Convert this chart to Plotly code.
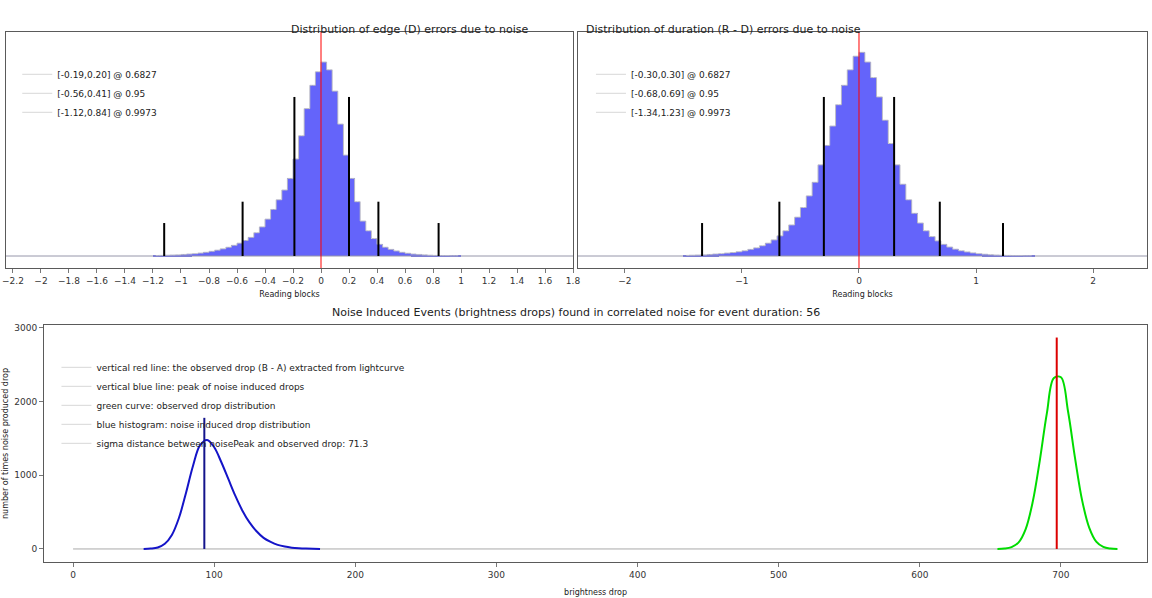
import numpy as np
import plotly.graph_objects as go

# ---- data ----
edge_start, edge_width = -1.18, 0.04
edge_counts = [0.002, 0.003, 0.004, 0.005, 0.006, 0.008, 0.010, 0.012, 0.015, 0.019,
               0.024, 0.030, 0.037, 0.045, 0.055, 0.066, 0.080, 0.096, 0.12, 0.15,
               0.19, 0.24, 0.29, 0.34, 0.40, 0.50, 0.62, 0.76, 0.88, 0.95,
               1.0, 0.96, 0.85, 0.68, 0.52, 0.40, 0.28, 0.18, 0.13, 0.09,
               0.06, 0.045, 0.034, 0.026, 0.019, 0.014, 0.010, 0.008, 0.006, 0.004,
               0.003, 0.002, 0.002, 0.001, 0.001]
edge_bounds = [-0.19, 0.20, -0.56, 0.41, -1.12, 0.84]
edge_labels = ["[-0.19,0.20] @ 0.6827", "[-0.56,0.41] @ 0.95", "[-1.12,0.84] @ 0.9973"]

dur_start, dur_width = -1.475, 0.05
dur_counts = [0.003, 0.004, 0.005, 0.006, 0.008, 0.010, 0.012, 0.015, 0.018, 0.022,
              0.027, 0.034, 0.042, 0.053, 0.066, 0.083, 0.104, 0.13, 0.16, 0.20,
              0.25, 0.31, 0.38, 0.47, 0.57, 0.67, 0.78, 0.88, 0.96, 1.03,
              1.05, 1.0, 0.92, 0.82, 0.70, 0.58, 0.47, 0.37, 0.29, 0.22,
              0.17, 0.13, 0.10, 0.078, 0.060, 0.046, 0.035, 0.027, 0.021, 0.016,
              0.012, 0.009, 0.007, 0.005, 0.004, 0.003, 0.002, 0.002, 0.001, 0.001]
dur_bounds = [-0.30, 0.30, -0.68, 0.69, -1.34, 1.23]
dur_labels = ["[-0.30,0.30] @ 0.6827", "[-0.68,0.69] @ 0.95", "[-1.34,1.23] @ 0.9973"]

bound_heights = [0.82, 0.82, 0.28, 0.28, 0.17, 0.17]

noise_x = [50, 55, 60, 65, 70, 75, 80, 85, 90, 95, 100, 105, 110, 115, 120, 125,
           130, 135, 140, 145, 150, 155, 160, 165, 170, 175]
noise_y = [0, 5, 20, 70, 190, 420, 760, 1130, 1410, 1480, 1380, 1180, 950, 720, 520,
           360, 240, 150, 95, 55, 32, 18, 10, 5, 2, 0]
obs_x = [655, 660, 665, 670, 675, 680, 685, 690, 695, 700, 705, 710, 715, 720, 725, 730, 735, 740]
obs_y = [1, 5, 25, 90, 270, 640, 1200, 1840, 2320, 2330, 1870, 1230, 660, 290, 100, 28, 6, 1]
noise_peak, noise_peak_h = 93, 1780
observed_drop, observed_h = 697, 2870
event_labels = ["vertical red line: the observed drop (B - A) extracted from lightcurve",
                "vertical blue line: peak of noise induced drops",
                "green curve: observed drop distribution",
                "blue histogram: noise induced drop distribution",
                "sigma distance between noisePeak and observed drop: 71.3"]

FONT = "DejaVu Sans"
fig = go.Figure()


def add_hist(xa, ya, start, width, counts, bounds, labels, legend, full):
    centers = start + width * np.arange(len(counts))
    fig.add_trace(go.Scatter(x=full, y=[0, 0], mode="lines", xaxis=xa, yaxis=ya,
                             line=dict(color="rgb(150,150,170)", width=1), showlegend=False))
    fig.add_trace(go.Bar(x=centers, y=counts, width=width, xaxis=xa, yaxis=ya,
                         marker=dict(color="rgb(100,100,250)", line=dict(width=0)),
                         showlegend=False))
    fig.add_trace(go.Scatter(x=centers, y=counts, mode="lines", line_shape="hvh",
                             xaxis=xa, yaxis=ya, line=dict(color="rgb(185,185,200)", width=1),
                             showlegend=False))
    bx, by = [], []
    for b, h in zip(bounds, bound_heights):
        bx += [b, b, None]
        by += [0, h, None]
    fig.add_trace(go.Scatter(x=bx, y=by, mode="lines", xaxis=xa, yaxis=ya,
                             line=dict(color="black", width=2), showlegend=False))
    fig.add_trace(go.Scatter(x=[0, 0], y=[-0.1, 1.3], mode="lines", xaxis=xa, yaxis=ya,
                             line=dict(color="red", width=1), showlegend=False))
    for lab in labels:
        fig.add_trace(go.Scatter(x=[None], y=[None], mode="lines", name=lab, legend=legend,
                                 xaxis=xa, yaxis=ya, line=dict(color="rgb(215,215,215)", width=1)))


add_hist("x", "y", edge_start, edge_width, edge_counts, edge_bounds, edge_labels,
         "legend", [-2.25, 1.8])
add_hist("x2", "y2", dur_start, dur_width, dur_counts, dur_bounds, dur_labels,
         "legend2", [-2.4, 2.46])

# bottom panel
fig.add_trace(go.Scatter(x=[0, 740], y=[0, 0], mode="lines", xaxis="x3", yaxis="y3",
                         line=dict(color="rgb(170,170,170)", width=1), showlegend=False))
fig.add_trace(go.Scatter(x=noise_x, y=noise_y, mode="lines", line_shape="spline",
                         xaxis="x3", yaxis="y3", line=dict(color="rgb(20,20,200)", width=2),
                         showlegend=False))
fig.add_trace(go.Scatter(x=obs_x, y=obs_y, mode="lines", line_shape="spline",
                         xaxis="x3", yaxis="y3", line=dict(color="rgb(0,220,0)", width=2),
                         showlegend=False))
fig.add_trace(go.Scatter(x=[noise_peak, noise_peak], y=[0, noise_peak_h], mode="lines",
                         xaxis="x3", yaxis="y3", line=dict(color="rgb(20,20,140)", width=2),
                         showlegend=False))
fig.add_trace(go.Scatter(x=[observed_drop, observed_drop], y=[0, observed_h], mode="lines",
                         xaxis="x3", yaxis="y3", line=dict(color="rgb(220,0,0)", width=2),
                         showlegend=False))
for lab in event_labels:
    fig.add_trace(go.Scatter(x=[None], y=[None], mode="lines", name=lab, legend="legend3",
                             xaxis="x3", yaxis="y3", line=dict(color="rgb(215,215,215)", width=1)))

axbox = dict(showline=True, mirror=True, linecolor="rgb(90,90,90)", linewidth=1,
             showgrid=False, zeroline=False, ticks="outside", ticklen=4,
             tickcolor="rgb(120,120,120)", tickfont=dict(size=9, color="#333"))
legbox = dict(bgcolor="rgba(0,0,0,0)", font=dict(size=9, color="#222", family=FONT),
              tracegroupgap=0, itemwidth=30)

fig.update_layout(
    width=1152, height=598, margin=dict(l=0, r=0, t=0, b=0, autoexpand=False),
    paper_bgcolor="white", plot_bgcolor="white", bargap=0,
    font=dict(family=FONT, size=10, color="#222"),
    xaxis=dict(axbox, domain=[0.0052, 0.4974], range=[-2.25, 1.8], dtick=0.2,
               title=dict(text="Reading blocks", font=dict(size=8), standoff=6)),
    yaxis=dict(axbox, domain=[0.5518, 0.9465], range=[-0.062, 1.155], showticklabels=False,
               ticks=""),
    xaxis2=dict(axbox, domain=[0.5017, 0.9957], range=[-2.4, 2.46], dtick=1, anchor="y2",
                title=dict(text="Reading blocks", font=dict(size=8), standoff=6)),
    yaxis2=dict(axbox, domain=[0.5518, 0.9465], range=[-0.062, 1.155], showticklabels=False,
                ticks="", anchor="x2"),
    xaxis3=dict(axbox, domain=[0.0382, 0.9957], range=[-20.6, 761], dtick=100, anchor="y3",
                title=dict(text="brightness drop", font=dict(size=8), standoff=10)),
    yaxis3=dict(axbox, domain=[0.0602, 0.4565], range=[-177, 3040], dtick=1000, anchor="x3",
                title=dict(text="number of times noise produced drop", font=dict(size=8),
                           standoff=4)),
    legend=dict(legbox, x=0.015, y=0.9, xanchor="left", yanchor="top"),
    legend2=dict(legbox, x=0.513, y=0.9, xanchor="left", yanchor="top"),
    legend3=dict(legbox, x=0.049, y=0.41, xanchor="left", yanchor="top"),
    annotations=[
        dict(text="Distribution of edge (D) errors due to noise", x=0.2513, y=0.965,
             xref="paper", yref="paper", showarrow=False, font=dict(size=11)),
        dict(text="Distribution of duration (R - D) errors due to noise", x=0.7487, y=0.965,
             xref="paper", yref="paper", showarrow=False, font=dict(size=11)),
        dict(text="Noise Induced Events (brightness drops) found in correlated noise for event duration: 56",
             x=0.5, y=0.478, xref="paper", yref="paper", showarrow=False, font=dict(size=11)),
    ],
)

fig.write_html("out.html", config={"displayModeBar": False},
               post_script="document.body.style.margin='0';")
